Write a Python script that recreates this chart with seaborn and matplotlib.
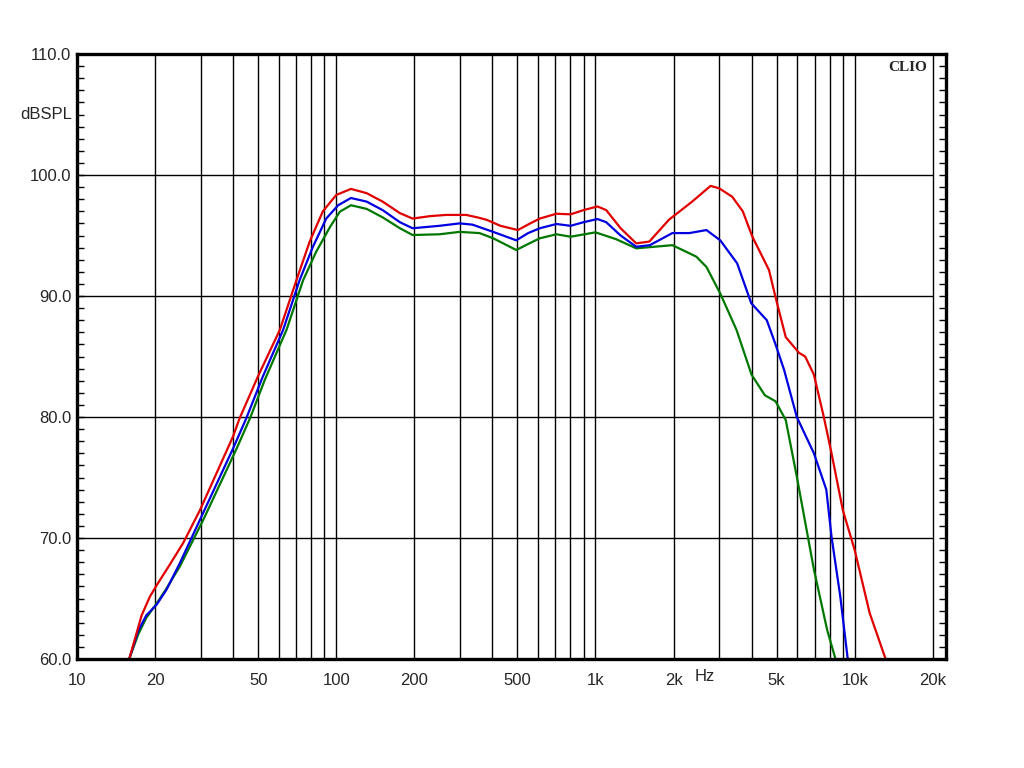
"""
Frequency response plot, CLIO style
"""

import numpy as np
import pandas as pd
import matplotlib
matplotlib.use("Agg")
import matplotlib.pyplot as plt
from matplotlib.ticker import FixedLocator, MultipleLocator, NullFormatter
import seaborn as sns

# red trace
red_freq = [15.9, 17.75, 19.1, 20.3, 22.8, 25.7, 29.8, 40, 42.4, 50, 60.6, 70.2, 79, 88.8,
            100, 114, 131, 151, 176, 197, 230, 265, 317, 350, 380, 430, 502, 560, 610, 707,
            802, 900, 1018, 1100, 1250, 1436, 1614, 1920, 2360, 2780, 3000, 3370, 3700,
            4030, 4670, 4950, 5420, 6100, 6440, 6960, 7600, 8140, 9000, 10000, 11420, 13160]
red_db = [60.0, 63.6, 65.15, 66.1, 67.8, 69.6, 72.3, 78.4, 79.9, 83.4, 87.2, 91.3, 94.5, 97.0,
          98.35, 98.85, 98.5, 97.8, 96.85, 96.4, 96.6, 96.7, 96.7, 96.5, 96.3, 95.8, 95.45, 96.0, 96.4, 96.8,
          96.75, 97.1, 97.4, 97.1, 95.6, 94.35, 94.5, 96.3, 97.8, 99.1, 98.9, 98.2, 97.0,
          94.9, 92.15, 89.9, 86.6, 85.3, 85.0, 83.5, 80.0, 77.0, 72.3, 69.0, 63.8, 60.0]

# blue trace
blue_freq = [15.9, 17.2, 18.5, 20.3, 22.1, 24.9, 29.8, 40, 45, 52, 62.4, 72.2, 81.3, 91.5,
             101.7, 114, 131, 151, 176, 197, 250, 299, 335, 403, 495, 550, 610, 707, 802, 900, 1018,
             1100, 1250, 1436, 1620, 1980, 2300, 2680, 3030, 3520, 3990, 4580, 4950, 5340,
             5980, 6960, 7770, 8140, 8800, 9400]
blue_db = [60.0, 62.3, 63.6, 64.5, 65.7, 67.9, 71.5, 77.4, 79.9, 83.3, 87.2, 91.3, 94.07, 96.4,
           97.5, 98.1, 97.8, 97.1, 96.1, 95.6, 95.8, 96.0, 95.9, 95.3, 94.6, 95.2, 95.6, 95.95, 95.8, 96.1, 96.36,
           96.1, 95.0, 94.07, 94.2, 95.2, 95.2, 95.45, 94.6, 92.7, 89.4, 88.0, 86.0, 83.9,
           80.0, 77.0, 74.0, 70.1, 65.15, 60.0]

# green trace
green_freq = [15.9, 17.2, 18.5, 20.3, 22.1, 25, 30.7, 41.3, 46.5, 53, 64.3, 74.5, 83.7, 94.6,
              103.3, 114, 131, 151, 176, 197, 250, 299, 357, 403, 495, 550, 610, 707, 802, 1000, 1200,
              1436, 1980, 2450, 2680, 3030, 3500, 4000, 4500, 4950, 5420, 5980, 6960, 7830, 8430]
green_db = [60.0, 62.0, 63.4, 64.6, 65.8, 67.7, 71.5, 77.4, 79.9, 83.06, 87.2, 91.3, 93.66, 95.7,
            96.97, 97.5, 97.2, 96.5, 95.6, 95.04, 95.1, 95.3, 95.2, 94.77, 93.8, 94.3, 94.77, 95.1, 94.9, 95.26, 94.7,
            93.94, 94.2, 93.25, 92.4, 90.2, 87.2, 83.5, 81.8, 81.3, 79.75, 75.07, 67.4, 62.4, 60.0]

grid_freqs = [20, 30, 40, 50, 60, 70, 80, 90, 100, 200, 300, 400, 500, 600, 700, 800, 900,
              1000, 2000, 3000, 4000, 5000, 6000, 7000, 8000, 9000, 10000, 20000]
x_labels = {10: "10", 20: "20", 50: "50", 100: "100", 200: "200", 500: "500",
            1000: "1k", 2000: "2k", 5000: "5k", 10000: "10k", 20000: "20k"}
y_ticks = [60, 70, 80, 90, 100, 110]

df = pd.concat([
    pd.DataFrame({"freq": green_freq, "db": green_db, "trace": "green"}),
    pd.DataFrame({"freq": blue_freq, "db": blue_db, "trace": "blue"}),
    pd.DataFrame({"freq": red_freq, "db": red_db, "trace": "red"}),
])

sns.set_style("white")
plt.rcParams['font.family'] = ['Liberation Sans', 'DejaVu Sans']

fig = plt.figure(figsize=(10.24, 7.68), dpi=100)
ax = fig.add_axes([77 / 1024, 1 - 659 / 768, (946 - 77) / 1024, (659 - 54) / 768])

sns.lineplot(
    data=df, x="freq", y="db", hue="trace",
    palette={"green": "#007800", "blue": "#0000e0", "red": "#e00000"},
    estimator=None, sort=False, linewidth=1.6, legend=False, ax=ax, zorder=3
)

ax.set_xscale("log")
ax.set_xlim(10, 22500)
ax.set_ylim(60, 110)

# x grid / labels
ticks_x = [10] + grid_freqs
ax.xaxis.set_major_locator(FixedLocator(ticks_x))
ax.xaxis.set_minor_locator(FixedLocator([]))
ax.xaxis.set_minor_formatter(NullFormatter())
ax.set_xticklabels([x_labels.get(f, "") for f in ticks_x])
ax.tick_params(axis="x", length=0, pad=10, labelsize=12)
ax.grid(True, axis="x", which="major", color="black", linewidth=1.0)

# y ticks, inward on both sides
ax.set_yticks(y_ticks)
ax.set_yticklabels([f"{v:.1f}" for v in y_ticks])
ax.yaxis.set_minor_locator(MultipleLocator(1))
ax.tick_params(axis="y", which="both", direction="in", length=5, width=1,
               left=True, right=True, labelsize=12, pad=4, color="black")
# horizontal grid stops at the 20k line
ax.hlines(y_ticks[1:-1], 10, 20000, color="black", linewidth=1.0, zorder=1)

ax.set_xlabel("")
ax.set_ylabel("")

for spine in ax.spines.values():
    spine.set_linewidth(2.4)
    spine.set_color("black")
    spine.set_zorder(4)

ax.text(-0.006, 105, "dBSPL", transform=ax.get_yaxis_transform(),
        ha="right", va="center", fontsize=12)
ax.text(2630, -0.0165, "Hz", transform=ax.get_xaxis_transform(),
        ha="center", va="top", fontsize=12)
ax.text(0.978, 0.988, "CLIO", transform=ax.transAxes, ha="right", va="top",
        fontsize=11, fontweight="bold", family=["Liberation Serif", "DejaVu Serif"])

fig.savefig("out.png", dpi=100)
